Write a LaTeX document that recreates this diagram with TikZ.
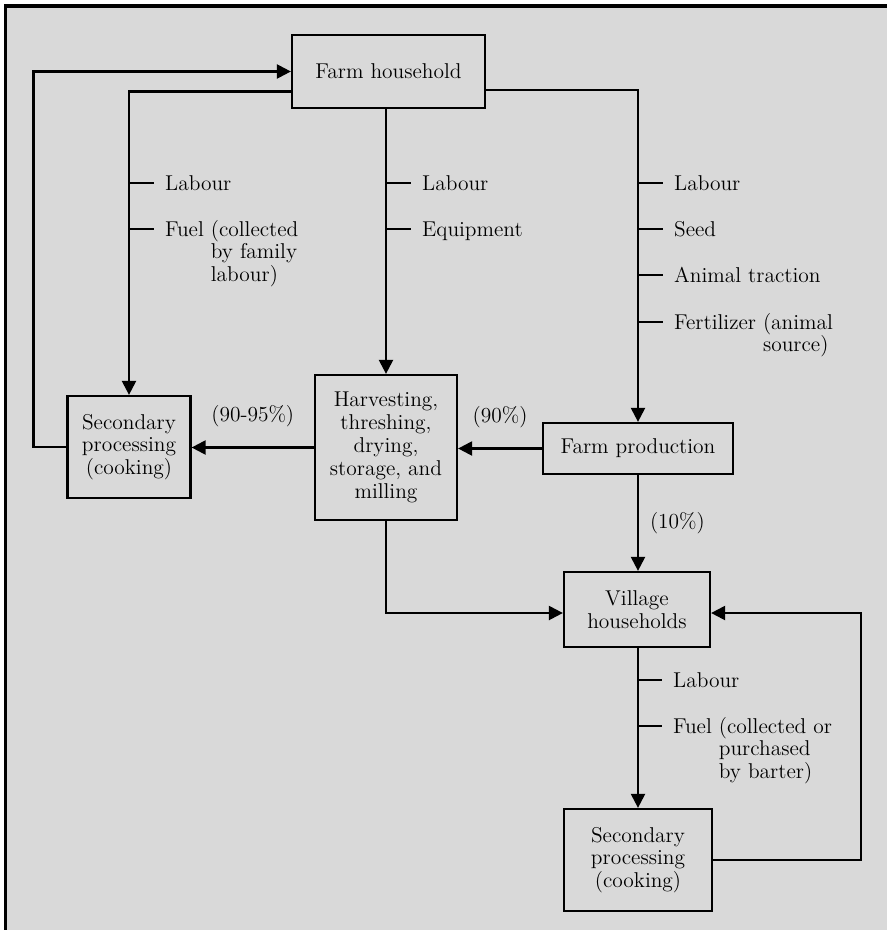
\documentclass[tikz,border=0pt]{standalone}
\usepackage{fontspec}
\usepackage{tikz}
\usetikzlibrary{arrows.meta}
\tikzset{
  box/.style={draw,line width=1.3pt,align=center,inner sep=0pt},
  flow/.style={line width=1.3pt,-{Triangle[length=0.28cm,width=0.28cm]}},
  tick/.style={line width=1.3pt},
  lbl/.style={anchor=base west,inner sep=0pt,xshift=0.2cm,yshift=-0.14cm},
}
\newcommand{\hang}[2]{#1 \begin{tabular}[t]{@{}l@{}}#2\end{tabular}}

\begin{document}
\begin{tikzpicture}[x=0.02cm,y=-0.02cm,font=\fontsize{12.2}{13}\selectfont]
\useasboundingbox (0,0) rectangle (887,930);
\fill[black!15] (5,6) rectangle (887,930);
\draw[line width=2pt] (5.5,930) -- (5.5,6) -- (887,6);
% boxes
\node[box,minimum width=3.86cm,minimum height=1.46cm] (hh) at (388.5,71.5) {Farm household};
\node[box,minimum width=2.46cm,minimum height=2.04cm] (secl) at (129,447) {Secondary\\processing\\(cooking)};
\node[box,minimum width=2.84cm,minimum height=2.9cm] (harv) at (386,447.5) {Harvesting,\\threshing,\\drying,\\storage, and\\milling};
\node[box,minimum width=3.8cm,minimum height=1.02cm] (prod) at (638,448.5) {Farm production};
\node[box,minimum width=2.92cm,minimum height=1.5cm] (vill) at (637,609.5) {Village\\households};
\node[box,minimum width=2.96cm,minimum height=2.04cm] (secr) at (638,860) {Secondary\\processing\\(cooking)};
% flows
\draw[flow] (secl.west) -- ++(-33,0) |- (hh.west);
\draw[flow] ([yshift=-0.4cm]hh.west) -| (secl.north);
\draw[flow] (hh.south -| harv.north) -- (harv.north);
\draw[flow] ([yshift=-0.37cm]hh.east) -| (prod.north);
\draw[flow] (harv.west) -- (harv.west -| secl.east) node[midway,above=0.28cm] {(90-95\%)};
\draw[flow] (prod.west) -- (prod.west -| harv.east) node[midway,above=0.28cm] {(90\%)};
\draw[flow] (prod.south) -- (prod.south |- vill.north) node[midway,right=0.1cm] {(10\%)};
\draw[flow] (harv.south) |- ([yshift=-0.07cm]vill.west);
\draw[flow] (vill.south -| secr.north) -- (secr.north);
\draw[flow] (secr.east) -- ++(148,0) |- ([yshift=-0.07cm]vill.east);
% inputs
\foreach \y/\txt in {183/Labour,229/{\hang{Fuel}{(collected\\by family\\labour)}}}
  \draw[tick] (secl.north |- 0,\y) -- ++(25,0) node[lbl] {\txt};
\foreach \y/\txt in {183/Labour,229/Equipment}
  \draw[tick] (harv.north |- 0,\y) -- ++(25,0) node[lbl] {\txt};
\foreach \y/\txt in {183/Labour,229/Seed,275/Animal traction,322/{\hang{Fertilizer}{(animal\\source)}}}
  \draw[tick] (prod.north |- 0,\y) -- ++(25,0) node[lbl] {\txt};
\foreach \y/\txt in {680/Labour,726/{\hang{Fuel}{(collected or\\purchased\\by barter)}}}
  \draw[tick] (vill.south |- 0,\y) -- ++(25,0) node[lbl] {\txt};
\end{tikzpicture}
\end{document}
